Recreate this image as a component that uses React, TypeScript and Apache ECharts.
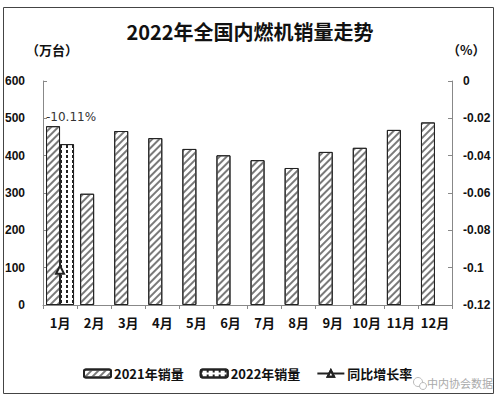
import React, { useEffect, useRef } from "react";
import * as echarts from "echarts";

const months = ["1月", "2月", "3月", "4月", "5月", "6月", "7月", "8月", "9月", "10月", "11月", "12月"];
const sales2021 = [479, 298, 466, 447, 418, 401, 388, 367, 410, 421, 469, 489];
const sales2022: (number | null)[] = [431, null, null, null, null, null, null, null, null, null, null, null];
const growth: (number | null)[] = [-0.1011, null, null, null, null, null, null, null, null, null, null, null];
const leftTicks = { min: 0, max: 600, interval: 100 };
const rightTicks = { min: -0.12, max: 0, interval: 0.02 };

const CJK = '"Noto Sans CJK SC", "Liberation Sans", sans-serif';
const NUM = '"Liberation Sans", Arial, sans-serif';

export default function App() {
  const ref = useRef<HTMLDivElement>(null);
  useEffect(() => {
    if (!ref.current) return;
    const chart = echarts.init(ref.current, undefined, { renderer: "svg" });
    const hatch = {
      symbol: "rect",
      symbolSize: 1,
      color: "#7a7a7a",
      dashArrayX: [1, 0],
      dashArrayY: [1.4, 3],
      rotation: -Math.PI / 4,
    };
    const dots = {
      symbol: "rect",
      symbolSize: 1,
      color: "#222",
      dashArrayX: [1.2, 4],
      dashArrayY: [3, 2],
      rotation: 0,
    };
    chart.setOption({
      animation: false,
      backgroundColor: "#fff",
      aria: { enabled: true, decal: { show: true } },
      title: {
        text: "2022年全国内燃机销量走势",
        left: "center",
        top: 16,
        textStyle: { fontFamily: CJK, fontSize: 20, fontWeight: "bold", color: "#111" },
      },
      grid: { left: 43, right: 48, top: 81, bottom: 93 },
      legend: {
        left: 78,
        top: 362,
        itemGap: 16,
        itemWidth: 27,
        itemHeight: 8,
        textStyle: { fontFamily: CJK, fontSize: 13, fontWeight: "bold", color: "#111", padding: [0, 0, 0, -2] },
        data: [{ name: "2021年销量" }, { name: "2022年销量" }, { name: "同比增长率" }],
      },
      xAxis: {
        type: "category",
        data: months,
        axisLine: { lineStyle: { color: "#888" } },
        axisTick: { show: true, length: 4, lineStyle: { color: "#888" } },
        axisLabel: { interval: 0, fontFamily: CJK, fontSize: 13, fontWeight: "bold", color: "#111", margin: 11 },
      },
      yAxis: [
        {
          type: "value",
          min: leftTicks.min,
          max: leftTicks.max,
          interval: leftTicks.interval,
          splitLine: { show: false },
          axisLine: { show: true, lineStyle: { color: "#888" } },
          axisTick: { show: true, inside: true, length: 4, lineStyle: { color: "#888" } },
          axisLabel: { fontFamily: NUM, fontSize: 12, fontWeight: "bold", color: "#111", margin: 18 },
        },
        {
          type: "value",
          min: rightTicks.min,
          max: rightTicks.max,
          interval: rightTicks.interval,
          splitLine: { show: false },
          axisLine: { show: true, lineStyle: { color: "#888" } },
          axisTick: { show: true, inside: true, length: 4, lineStyle: { color: "#888" } },
          axisLabel: { fontFamily: NUM, fontSize: 12, fontWeight: "bold", color: "#111", margin: 11 },
        },
      ],
      series: [
        {
          name: "2021年销量",
          type: "bar",
          data: sales2021,
          barWidth: 14,
          barGap: "0%",
          itemStyle: { color: "#fff", borderColor: "#222", borderWidth: 1, decal: hatch },
          label: {
            show: true,
            position: "top",
            distance: 3,
            offset: [18, 0],
            fontFamily: '"DejaVu Sans", sans-serif',
            fontSize: 12,
            color: "#333",
            formatter: (p: any) =>
              growth[p.dataIndex] != null ? ((growth[p.dataIndex] as number) * 100).toFixed(2) + "%" : "",
          },
        },
        {
          name: "2022年销量",
          type: "bar",
          data: sales2022,
          barWidth: 14,
          barGap: "0%",
          itemStyle: { color: "#fff", borderColor: "#222", borderWidth: 1, decal: dots },
        },
        {
          name: "同比增长率",
          type: "line",
          yAxisIndex: 1,
          data: growth,
          symbol: "emptyTriangle",
          symbolSize: 8,
          itemStyle: { color: "#222", borderColor: "#222", borderWidth: 1 },
          lineStyle: { color: "#222", width: 1.5 },
        },
      ],
      graphic: [
        {
          type: "rect",
          shape: { x: 3.5, y: 7.5, width: 490, height: 386 },
          style: { fill: "none", stroke: "#444", lineWidth: 1 },
          silent: true,
        },
        {
          type: "text",
          x: 26,
          y: 43,
          style: { text: "（万台）", font: `bold 13px ${CJK}`, fill: "#111" },
        },
        {
          type: "text",
          x: 447,
          y: 43,
          style: { text: "（%）", font: `bold 13px ${CJK}`, fill: "#111" },
        },
        {
          type: "circle",
          shape: { cx: 418, cy: 382, r: 4.5 },
          style: { fill: "none", stroke: "#bbb", lineWidth: 1 },
        },
        {
          type: "circle",
          shape: { cx: 423, cy: 386, r: 3.5 },
          style: { fill: "#fff", stroke: "#bbb", lineWidth: 1 },
        },
        {
          type: "text",
          x: 427,
          y: 377,
          style: { text: "中内协会数据", font: `11px ${CJK}`, fill: "#aaa" },
        },
      ],
    });
    return () => chart.dispose();
  }, []);
  return <div ref={ref} style={{ width: 500, height: 398, position: "absolute", left: 0, top: 0 }} />;
}
